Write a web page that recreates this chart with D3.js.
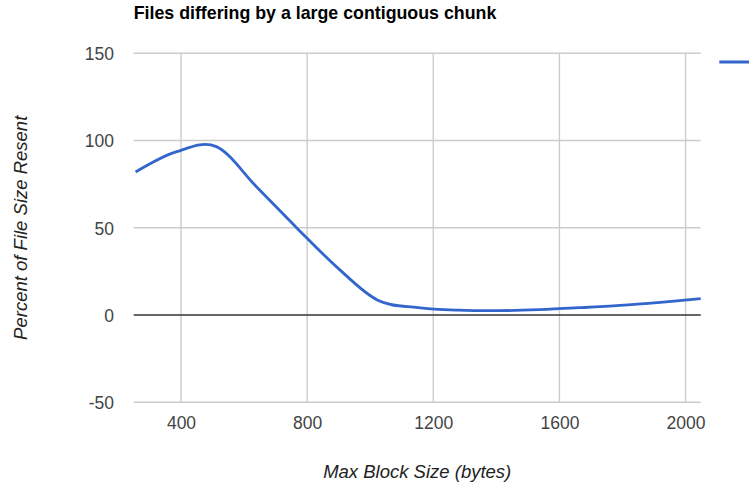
<!DOCTYPE html>
<html>
<head>
<meta charset="utf-8">
<script src="https://cdn.jsdelivr.net/npm/d3@7"></script>
<style>
  html, body { margin: 0; padding: 0; background: #fff; overflow: hidden; }
  svg { display: block; }
</style>
</head>
<body>
<svg id="chart" width="749" height="486"></svg>
<script>
// ---- data ----
const blockSizes = [256, 384, 512, 640, 768, 896, 1024, 1152, 1280, 1408, 1536, 1664, 1792, 1920, 2048];
const percentResent = [82, 93.5, 96.5, 73.4, 49.8, 27.2, 8.5, 4.3, 2.8, 2.5, 3.1, 4.2, 5.5, 7.3, 9.4];
const xTicks = [400, 800, 1200, 1600, 2000];
const yTicks = [-50, 0, 50, 100, 150];
const xDomain = [250, 2048];
const yDomain = [-50, 150];
const titleText = "Files differing by a large contiguous chunk";
const xTitle = "Max Block Size (bytes)";
const yTitle = "Percent of File Size Resent";

// ---- layout ----
const plotL = 133.7, plotR = 700.7, plotT = 53.3, plotB = 402.3;
const font = "Arial, 'Liberation Sans', sans-serif";
const fmt = d => String(d);

const svg = d3.select("#chart");
const x = d3.scaleLinear().domain(xDomain).range([plotL, plotR]);
const y = d3.scaleLinear().domain(yDomain).range([plotB, plotT]);

// gridlines
const grid = svg.append("g");
grid.selectAll("line.h").data(yTicks.filter(d => d !== 0)).enter().append("line")
  .attr("x1", plotL).attr("x2", plotR)
  .attr("y1", d => y(d)).attr("y2", d => y(d))
  .attr("stroke", "#cccccc").attr("stroke-width", 1.4);
grid.selectAll("line.v").data(xTicks).enter().append("line")
  .attr("x1", d => x(d)).attr("x2", d => x(d))
  .attr("y1", plotT).attr("y2", plotB)
  .attr("stroke", "#cccccc").attr("stroke-width", 1.4);

// zero baseline
svg.append("line")
  .attr("x1", plotL).attr("x2", plotR)
  .attr("y1", y(0)).attr("y2", y(0))
  .attr("stroke", "#333333").attr("stroke-width", 1.5);

// axes tick labels (via d3 axes, with domain/ticks hidden)
const yAxis = d3.axisLeft(y).tickValues(yTicks).tickFormat(fmt).tickSize(0).tickPadding(0);
const gy = svg.append("g").attr("transform", `translate(${114},0)`).call(yAxis);
gy.select(".domain").remove();
gy.selectAll("text").attr("font-family", font).attr("font-size", 17.5)
  .attr("fill", "#444444").attr("dy", "0.36em");

const xAxis = d3.axisBottom(x).tickValues(xTicks).tickFormat(fmt).tickSize(0).tickPadding(0);
const gx = svg.append("g").attr("transform", `translate(0,${429})`).call(xAxis);
gx.select(".domain").remove();
gx.selectAll("text").attr("font-family", font).attr("font-size", 17.5)
  .attr("fill", "#444444").attr("dy", 0);

// series line
const pts = blockSizes.map((b, i) => [b, percentResent[i]]);
const line = d3.line().x(d => x(d[0])).y(d => y(d[1])).curve(d3.curveCardinal.tension(0));
svg.append("path").datum(pts)
  .attr("d", line)
  .attr("fill", "none")
  .attr("stroke", "#3366cc")
  .attr("stroke-width", 2.8)
  .attr("stroke-linejoin", "round");

// legend (cut off at right edge)
svg.append("line")
  .attr("x1", 719.3).attr("x2", 770)
  .attr("y1", 62).attr("y2", 62)
  .attr("stroke", "#3366cc").attr("stroke-width", 2.8);

// title
svg.append("text")
  .attr("x", plotL).attr("y", 19.3)
  .attr("font-family", font).attr("font-size", 17.8).attr("font-weight", "bold")
  .attr("fill", "#000")
  .text(titleText);

// x title
svg.append("text")
  .attr("x", (plotL + plotR) / 2).attr("y", 478)
  .attr("text-anchor", "middle")
  .attr("font-family", font).attr("font-size", 18.5).attr("font-style", "italic")
  .attr("fill", "#222222")
  .text(xTitle);

// y title
svg.append("text")
  .attr("transform", `translate(27,${(plotT + plotB) / 2}) rotate(-90)`)
  .attr("text-anchor", "middle")
  .attr("font-family", font).attr("font-size", 18.5).attr("font-style", "italic")
  .attr("fill", "#222222")
  .text(yTitle);
</script>
</body>
</html>
